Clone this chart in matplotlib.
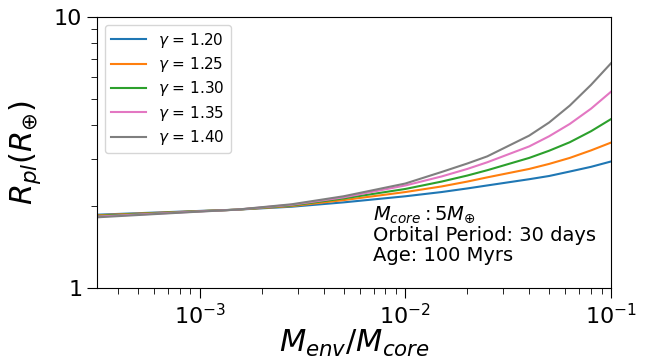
import matplotlib
matplotlib.use("Agg")
import matplotlib.pyplot as plt
from matplotlib.ticker import FixedLocator, FixedFormatter, NullFormatter

# envelope mass fraction
f_env = [3.16e-4, 1e-3, 1.5e-3, 2.8e-3, 5e-3, 1e-2, 1.5e-2, 2e-2, 2.5e-2,
         4e-2, 5e-2, 6.3e-2, 8e-2, 1e-1]

gammas = [1.20, 1.25, 1.30, 1.35, 1.40]
colors = ["tab:blue", "tab:orange", "tab:green", "tab:pink", "tab:gray"]

r_120 = [1.864, 1.925, 1.945, 1.995, 2.07, 2.18, 2.26, 2.33, 2.39, 2.52, 2.59, 2.69, 2.80, 2.93]
r_125 = [1.855, 1.922, 1.945, 2.006, 2.11, 2.26, 2.37, 2.47, 2.56, 2.75, 2.87, 3.02, 3.22, 3.44]
r_130 = [1.845, 1.920, 1.945, 2.017, 2.14, 2.32, 2.47, 2.60, 2.72, 3.02, 3.21, 3.45, 3.79, 4.20]
r_135 = [1.834, 1.917, 1.945, 2.028, 2.16, 2.39, 2.58, 2.75, 2.91, 3.33, 3.63, 4.03, 4.59, 5.30]
r_140 = [1.823, 1.914, 1.945, 2.037, 2.18, 2.43, 2.68, 2.88, 3.06, 3.65, 4.08, 4.71, 5.62, 6.75]
radii = [r_120, r_125, r_130, r_135, r_140]

fig = plt.figure(figsize=(6.51, 3.60), dpi=100)
ax = fig.add_axes([97/651, 1 - 288/360, 514/651, 271/360])

for g, r, c in zip(gammas, radii, colors):
    ax.plot(f_env, r, color=c, lw=1.5, label=r"$\gamma$ = %.2f" % g)

ax.set_xscale("log")
ax.set_yscale("log")
ax.set_xlim(10**-3.5, 1e-1)
ax.set_ylim(1, 10)

ax.yaxis.set_major_locator(FixedLocator([1, 10]))
ax.yaxis.set_major_formatter(FixedFormatter(["1", "10"]))
ax.yaxis.set_minor_formatter(NullFormatter())

ax.tick_params(which="major", length=7, labelsize=16)
ax.tick_params(which="minor", length=4.5)

ax.set_xlabel(r"$M_{env}/M_{core}$", fontsize=22, labelpad=0)
ax.set_ylabel(r"$R_{pl}(R_{\oplus})$", fontsize=22, labelpad=8)

ax.text(0.537, 0.085, "$M_{core}: 5M_{\\oplus}$\nOrbital Period: 30 days\nAge: 100 Myrs",
        transform=ax.transAxes, fontsize=14, linespacing=1.05,
        ha="left", va="bottom")

ax.legend(loc="upper left", fontsize=11, labelspacing=0.35, handlelength=2.3)

fig.savefig("out.png", dpi=100)
